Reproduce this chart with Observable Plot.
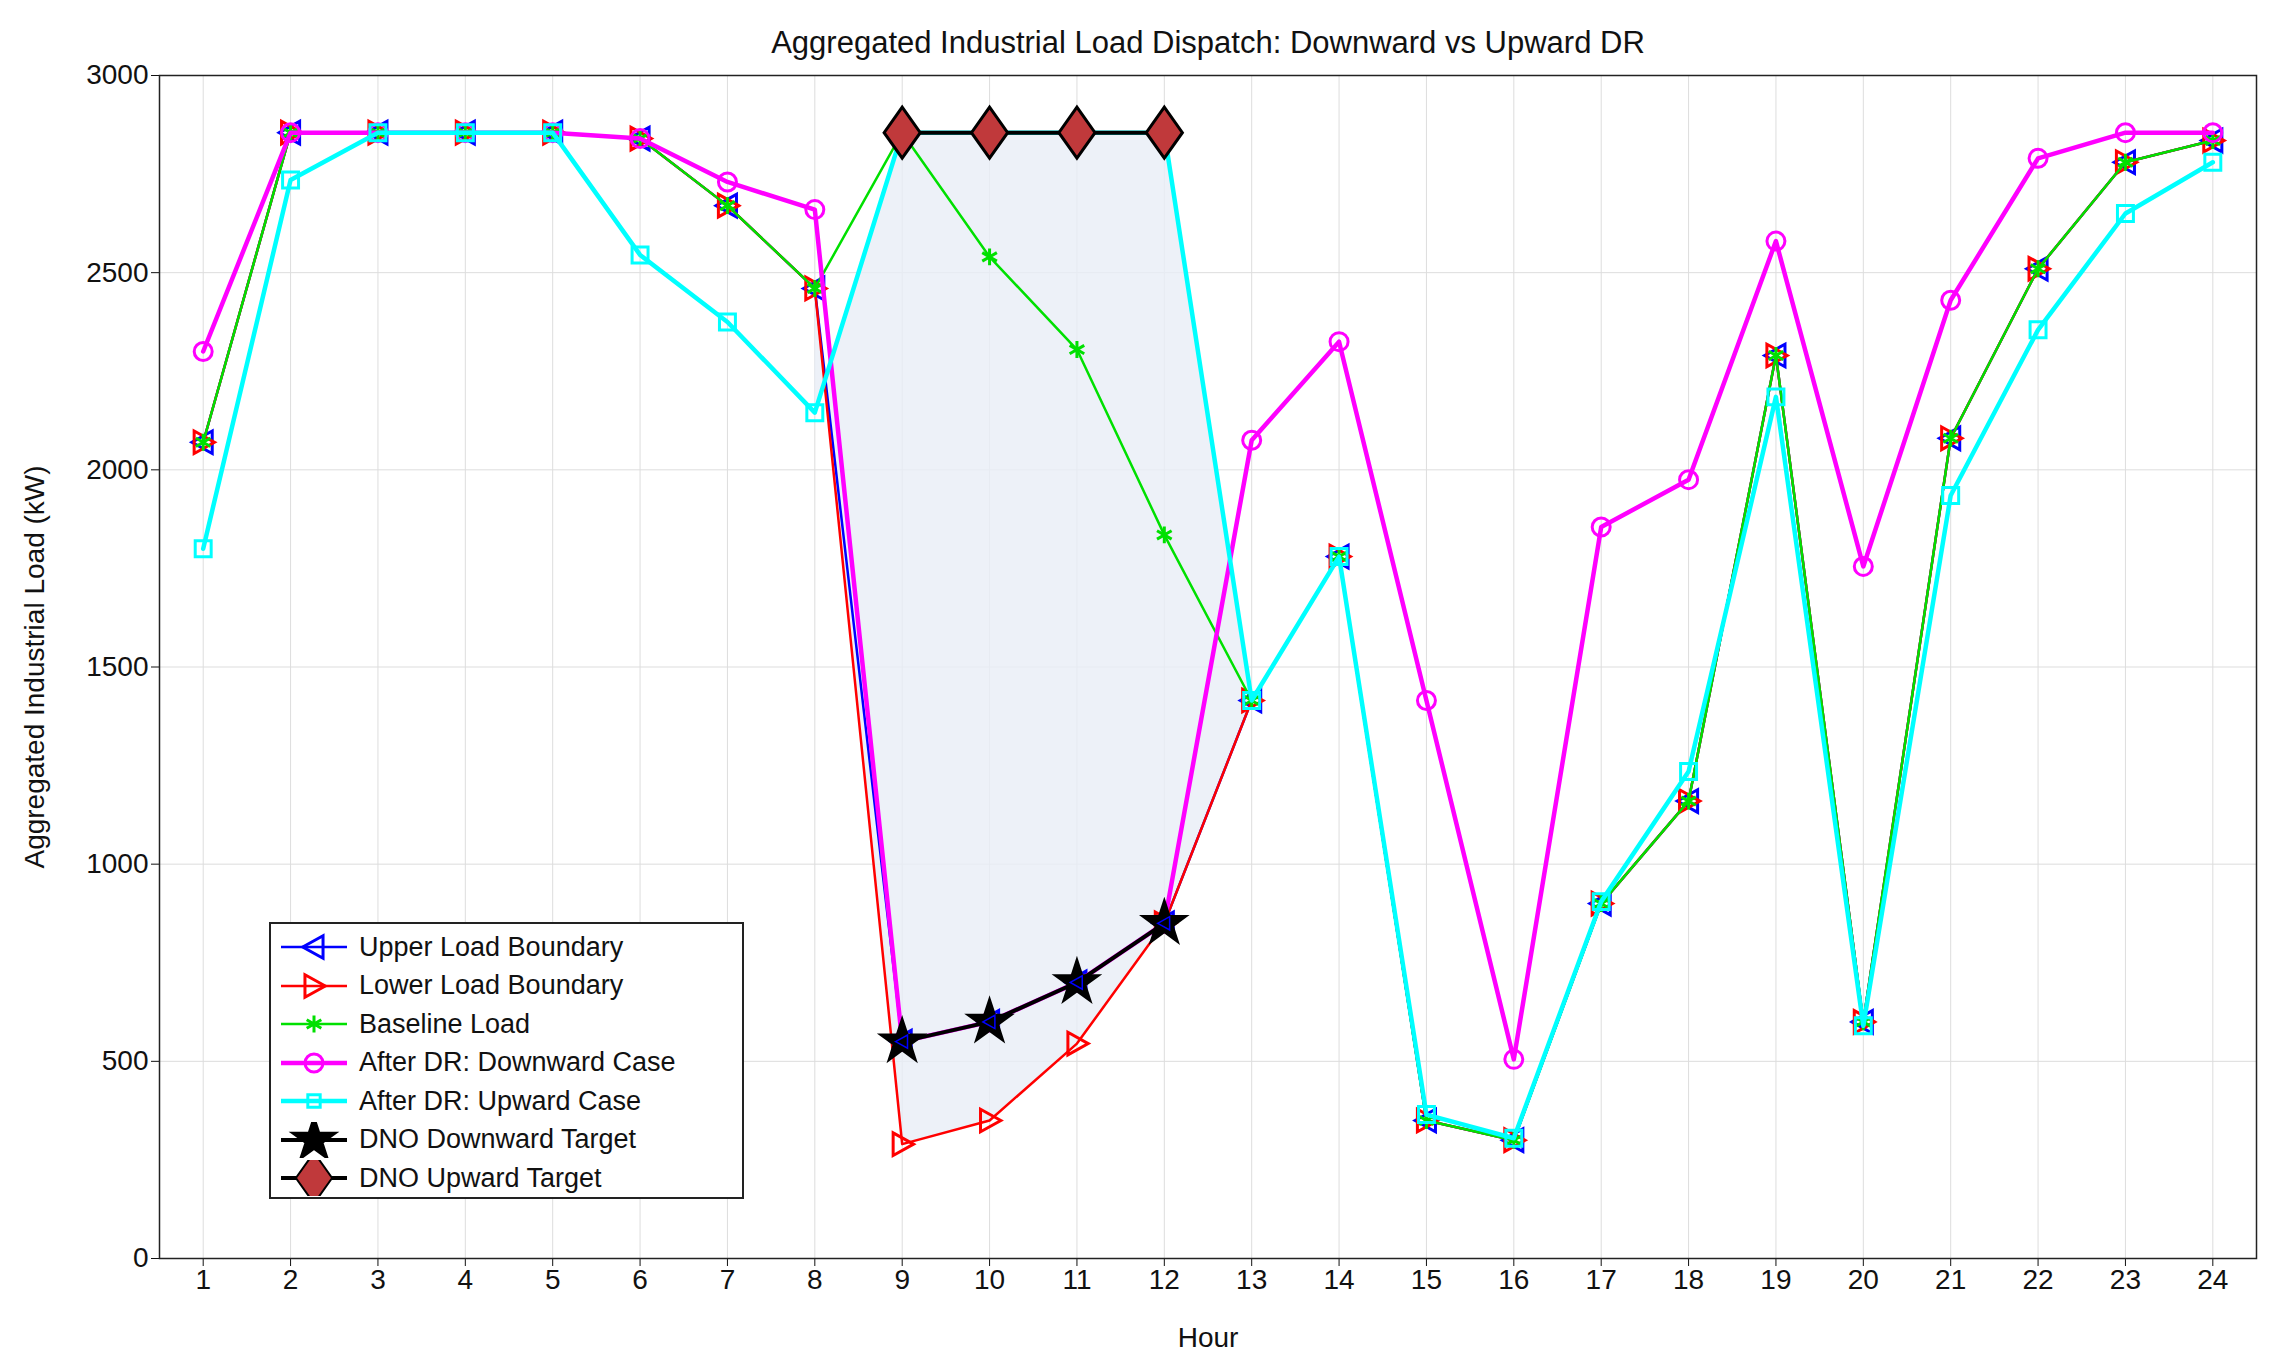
<!DOCTYPE html>
<html><head><meta charset="utf-8">
<script src="https://cdn.jsdelivr.net/npm/d3@7"></script>
<script src="https://cdn.jsdelivr.net/npm/@observablehq/plot@0.6"></script>
<style>
body{margin:0;background:#fff;font-family:"Liberation Sans",Arial,sans-serif;}
#wrap{position:relative;width:2276px;height:1366px;}
#title{height:60px;line-height:86px;text-align:center;font-size:31px;padding-left:140px;color:#111;}
#legend{position:absolute;left:269px;top:922px;width:475px;height:277px;border:2px solid #222;background:#fff;box-sizing:border-box;padding:4px 8px;}
.row{display:flex;align-items:center;height:38.5px;font-size:27px;color:#111;}
.row svg{margin-right:10px;}
</style></head><body>
<div id="wrap"><div id="title">Aggregated Industrial Load Dispatch: Downward vs Upward DR</div><div id="chart"></div><div id="legend"></div></div>
<script>
const hours = d3.range(1,25);
const upper    = [2070,2855,2855,2855,2855,2840,2670,2460,550,600,700,850,1415,1780,350,300,900,1160,2290,600,2080,2510,2780,2835];
const lower    = [2070,2855,2855,2855,2855,2840,2670,2460,290,350,545,850,1415,1780,350,300,900,1160,2290,600,2080,2510,2780,2835];
const baseline = [2070,2855,2855,2855,2855,2840,2670,2460,2855,2540,2305,1835,1415,1780,350,300,900,1160,2290,600,2080,2510,2780,2835];
const downCase = [2300,2855,2855,2855,2855,2840,2730,2660,550,600,700,850,2075,2325,1415,505,1855,1975,2580,1755,2430,2790,2855,2855];
const upCase   = [1800,2735,2855,2855,2855,2545,2375,2145,2855,2855,2855,2855,1415,1780,365,305,905,1235,2185,590,1935,2355,2650,2780];
const dnoHours = [9,10,11,12];
const dnoDown  = [550,600,700,850];
const dnoUp    = [2855,2855,2855,2855];

const tri = dir => ({draw(ctx,size){const r=Math.sqrt(size)*0.75;if(dir<0){ctx.moveTo(-r,0);ctx.lineTo(r*0.8,-r);ctx.lineTo(r*0.8,r);}else{ctx.moveTo(r,0);ctx.lineTo(-r*0.8,-r);ctx.lineTo(-r*0.8,r);}ctx.closePath();}});
const diamond = {draw(ctx,size){const r=Math.sqrt(size)*0.8;ctx.moveTo(0,-r*1.2);ctx.lineTo(r*0.85,0);ctx.lineTo(0,r*1.2);ctx.lineTo(-r*0.85,0);ctx.closePath();}};
const mk = arr => hours.map((h,i)=>({h,v:arr[i]}));
const shade = d3.range(8,14).map(h=>({h,lo:lower[h-1],hi:upCase[h-1]}));
const dn = dnoHours.map((h,i)=>({h,v:dnoDown[i]}));
const du = dnoHours.map((h,i)=>({h,v:dnoUp[i]}));

const series = [
 {name:"Upper Load Boundary",data:upper,color:"#0000ff",w:2.5,sym:tri(-1),r:8.5},
 {name:"Lower Load Boundary",data:lower,color:"#ff0000",w:2.5,sym:tri(1),r:8.5},
 {name:"Baseline Load",data:baseline,color:"#00e000",w:2.5,sym:"asterisk",r:8},
 {name:"After DR: Downward Case",data:downCase,color:"#ff00ff",w:4.5,sym:"circle",r:9},
 {name:"After DR: Upward Case",data:upCase,color:"#00ffff",w:4.5,sym:"square",r:9},
];
const marks=[
 Plot.gridX(hours,{stroke:"#ddd",strokeOpacity:1}),
 Plot.gridY(d3.range(0,3001,500),{stroke:"#ddd",strokeOpacity:1}),
 Plot.areaY(shade,{x:"h",y1:"lo",y2:"hi",fill:"#e8eef6",fillOpacity:0.8}),
];
for(const s of series){
 marks.push(Plot.line(mk(s.data),{x:"h",y:"v",stroke:s.color,strokeWidth:s.w}));
 marks.push(Plot.dot(mk(s.data),{x:"h",y:"v",symbol:s.sym,stroke:s.color,strokeWidth:3,fill:"none",r:s.r}));
}
marks.push(Plot.line(dn,{x:"h",y:"v",stroke:"#000",strokeWidth:4}));
marks.push(Plot.dot(dn,{x:"h",y:"v",symbol:"star",fill:"#000",stroke:"#000",strokeWidth:2,r:14}));
marks.push(Plot.dot(dn,{x:"h",y:"v",symbol:tri(-1),stroke:"#0000ff",fill:"none",strokeWidth:1.5,r:5}));
marks.push(Plot.line(du,{x:"h",y:"v",stroke:"#000",strokeWidth:4}));
marks.push(Plot.dot(du,{x:"h",y:"v",symbol:diamond,fill:"#c0393b",stroke:"#000",strokeWidth:3,r:15}));
marks.push(Plot.frame({stroke:"#222",strokeWidth:1.5}));

const plot = Plot.plot({
 width:2276,height:1306,marginTop:15,marginBottom:108,marginLeft:159,marginRight:20,
 style:{fontFamily:"Liberation Sans, Arial, sans-serif",fontSize:"28px",color:"#111",background:"#fff"},
 x:{domain:[0.5,24.5],ticks:hours,tickFormat:d=>String(d),label:"Hour",labelArrow:"none",labelAnchor:"center",labelOffset:88,tickSize:8},
 y:{domain:[0,3000],ticks:d3.range(0,3001,500),tickFormat:d=>String(d),label:"Aggregated Industrial Load (kW)",labelArrow:"none",labelAnchor:"center",labelOffset:135,tickSize:8},
 marks
});
document.getElementById("chart").appendChild(plot);

const leg=[...series.map(s=>({name:s.name,color:s.color,w:s.w,sym:s.sym,r:s.r})),
 {name:"DNO Downward Target",color:"#000",w:4,sym:"star",r:14,fillc:"#000"},
 {name:"DNO Upward Target",color:"#000",w:4,sym:diamond,r:15,fillc:"#c0393b"}];
const L=document.getElementById("legend");
for(const e of leg){
 const row=document.createElement("div");row.className="row";
 const svg=d3.create("svg").attr("width",70).attr("height",36);
 svg.append("line").attr("x1",2).attr("x2",68).attr("y1",18).attr("y2",18).attr("stroke",e.color).attr("stroke-width",e.w);
 const sym = typeof e.sym==="string"? {circle:d3.symbolCircle,square:d3.symbolSquare,asterisk:d3.symbolAsterisk,star:d3.symbolStar}[e.sym] : e.sym;
 svg.append("path").attr("transform","translate(35,18)").attr("d",d3.symbol(sym,Math.PI*e.r*e.r*(e.sym==="square"?0.6:1))())
   .attr("fill",e.fillc||"none").attr("stroke",e.color).attr("stroke-width",e.fillc?2:3);
 row.appendChild(svg.node());
 const t=document.createElement("span");t.textContent=e.name;row.appendChild(t);
 L.appendChild(row);
}
</script></body></html>
